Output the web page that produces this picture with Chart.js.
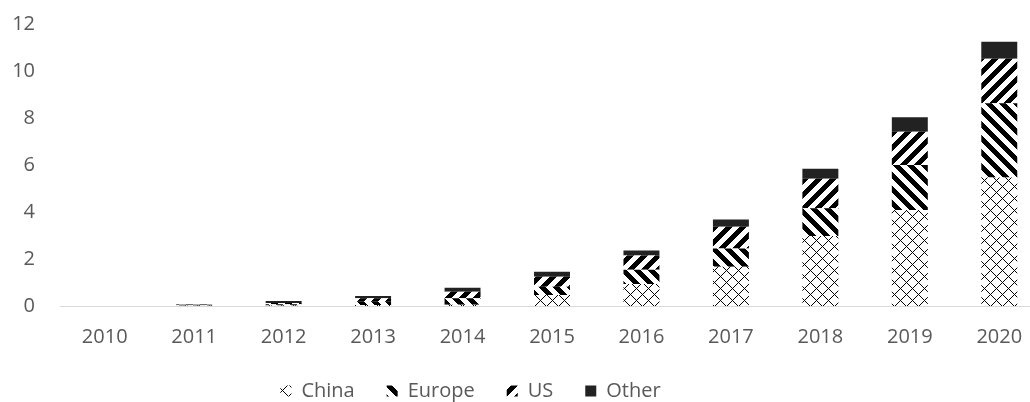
<!DOCTYPE html>
<html>
<head>
<meta charset="utf-8">
<title>Installations by region, 2010–2020</title>
<script src="https://cdn.jsdelivr.net/npm/chart.js@4.4.1/dist/chart.umd.min.js"></script>
<style>
  html, body { margin: 0; padding: 0; overflow: hidden; background: #ffffff; }
  #wrap { width: 1030px; height: 402px; overflow: hidden; position: relative; }
  canvas { display: block; }
</style>
</head>
<body>
<div id="wrap"><canvas id="chart" width="1046" height="412"></canvas></div>
<script>
// ---- data ----
const years  = ['2010', '2011', '2012', '2013', '2014', '2015', '2016', '2017', '2018', '2019', '2020'];
const china  = [0, 0.01, 0.02, 0.04, 0.05, 0.47, 0.94, 1.67, 2.98, 4.09, 5.47];
const europe = [0, 0.02, 0.05, 0.14, 0.28, 0.35, 0.60, 0.78, 1.18, 1.91, 3.16];
const us     = [0, 0.02, 0.06, 0.15, 0.28, 0.43, 0.61, 0.92, 1.25, 1.42, 1.89];
const other  = [0, 0.02, 0.08, 0.10, 0.17, 0.21, 0.21, 0.31, 0.43, 0.61, 0.72];
const seriesNames = ['China', 'Europe', 'US', 'Other'];
const yTicks = [0, 2, 4, 6, 8, 10, 12];

// ---- styling ----
const TEXT = '#595959';
const FONT = "'Open Sans', 'Noto Sans', sans-serif";
const FONT_SIZE = 20;
const LEGEND_CENTER_X = 470.5;
const LEGEND_TEXT_Y = 391;

const canvas = document.getElementById('chart');
const ctx = canvas.getContext('2d');

// Build a repeating black/white pixel pattern
function pixelPattern(size, isInk) {
  const tile = document.createElement('canvas');
  tile.width = size;
  tile.height = size;
  const g = tile.getContext('2d');
  g.fillStyle = '#ffffff';
  g.fillRect(0, 0, size, size);
  g.fillStyle = '#000000';
  for (let y = 0; y < size; y++) {
    for (let x = 0; x < size; x++) {
      if (isInk(x, y)) g.fillRect(x, y, 1, 1);
    }
  }
  return ctx.createPattern(tile, 'repeat');
}

const diamondFill  = pixelPattern(12, (x, y) => y === x || y === (12 - x) % 12);
const downStripes  = pixelPattern(14, (x, y) => ((x - y) % 14 + 14) % 14 < 7);
const upStripes    = pixelPattern(14, (x, y) => (x + y) % 14 < 7);
const solidDark    = '#222222';

// Place the legend row on its own centre line and text baseline
const legendShift = {
  id: 'legendShift',
  afterLayout(chart) {
    const lg = chart.legend;
    if (!lg) return;
    const pad = lg.options.labels.padding;
    const dx = LEGEND_CENTER_X - (lg.left + lg.right) / 2;
    const dy = LEGEND_TEXT_Y - (lg.top + pad + FONT_SIZE / 2);
    lg.left += dx;
    lg.right += dx;
    lg.top += dy;
    lg.bottom += dy;
  }
};

const fills = [diamondFill, downStripes, upStripes, solidDark];
const values = [china, europe, us, other];

new Chart(ctx, {
  type: 'bar',
  data: {
    labels: years,
    datasets: seriesNames.map((name, i) => ({
      label: name,
      data: values[i],
      backgroundColor: fills[i],
      borderWidth: 0,
      categoryPercentage: 1,
      barPercentage: 0.402
    }))
  },
  options: {
    responsive: false,
    animation: false,
    layout: { padding: { left: 12, right: 2, top: 24, bottom: 1 } },
    scales: {
      x: {
        stacked: true,
        grid: { display: false, drawTicks: false },
        border: { display: true, color: '#d9d9d9', width: 1 },
        ticks: { color: TEXT, font: { family: FONT, size: FONT_SIZE }, padding: 19, maxRotation: 0 },
        afterFit(scale) { scale.height = 43; }
      },
      y: {
        stacked: true,
        min: 0,
        max: 12,
        afterBuildTicks(scale) { scale.ticks = yTicks.map(v => ({ value: v })); },
        grid: { display: false, drawTicks: false },
        border: { display: false },
        ticks: { color: TEXT, font: { family: FONT, size: FONT_SIZE }, padding: 25 },
        afterFit(scale) {
          scale.width = 48;
          scale.paddingTop = 0;
          scale.paddingBottom = 0;
        }
      }
    },
    plugins: {
      legend: {
        position: 'bottom',
        labels: {
          color: TEXT,
          font: { family: FONT, size: FONT_SIZE },
          boxWidth: 11,
          boxHeight: 11,
          padding: 32
        }
      },
      tooltip: { enabled: false }
    }
  },
  plugins: [legendShift]
});
</script>
</body>
</html>
